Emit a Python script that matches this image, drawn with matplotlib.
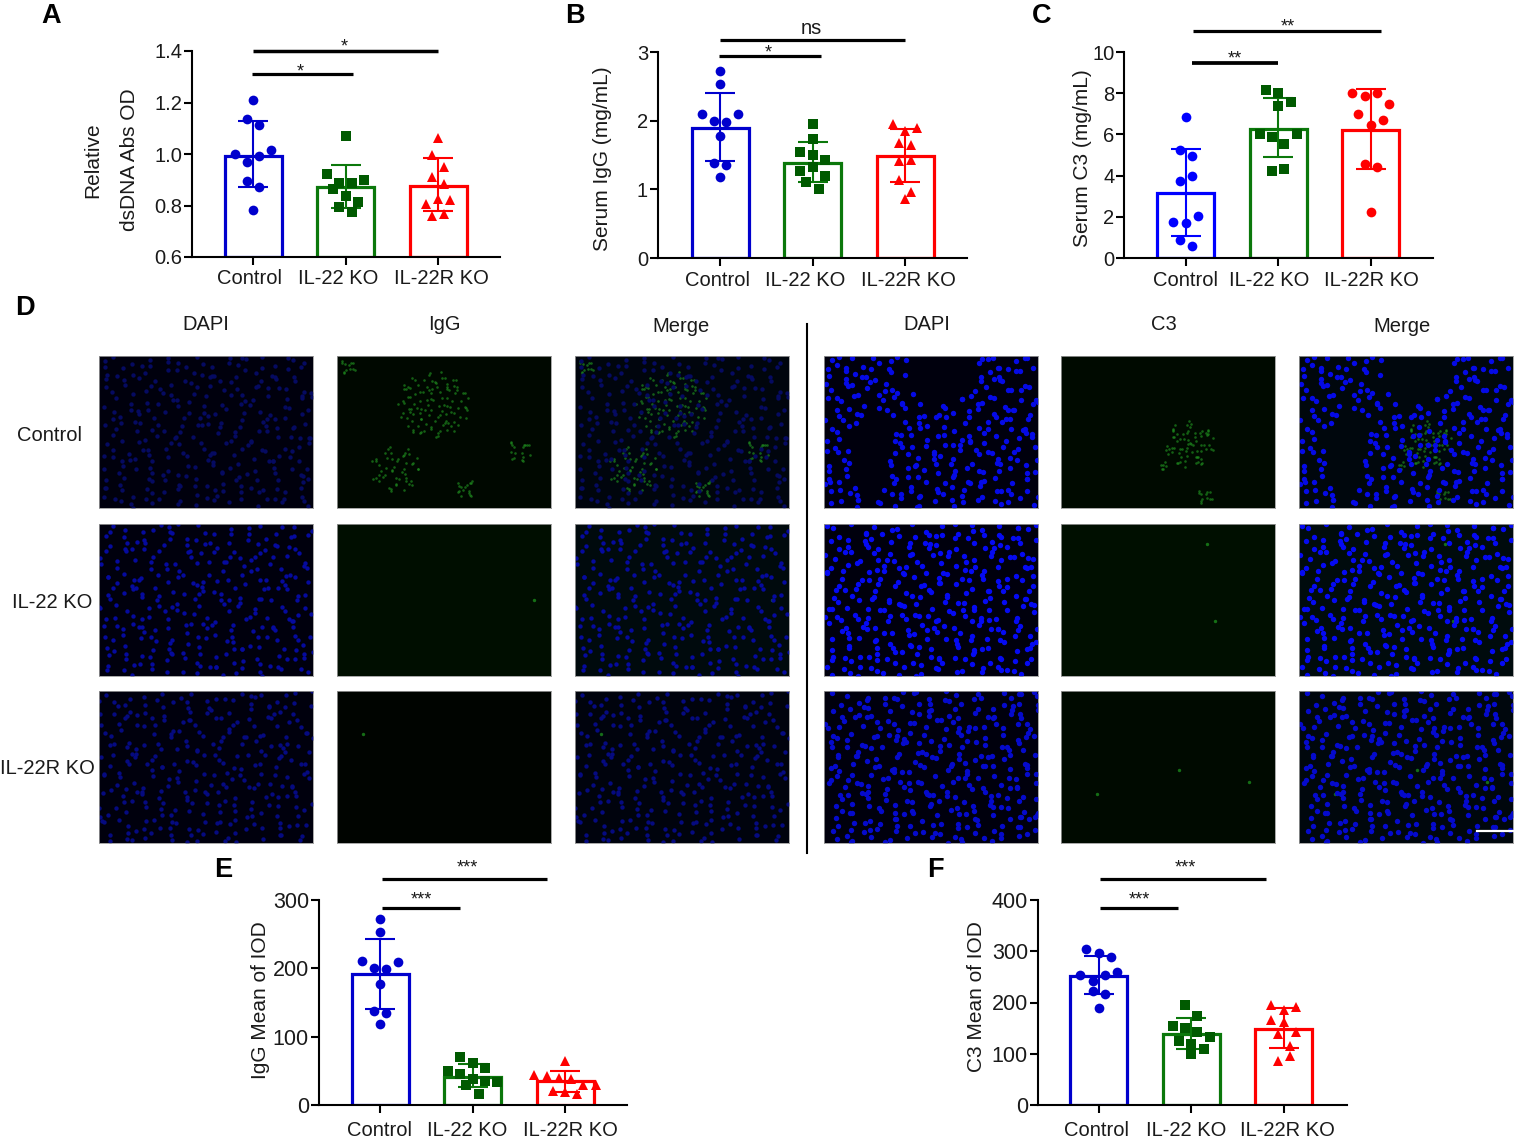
import numpy as np
import matplotlib
matplotlib.use("Agg")
import matplotlib.pyplot as plt
from matplotlib.lines import Line2D
from matplotlib.transforms import ScaledTranslation

plt.rcParams['font.family'] = ['Liberation Sans', 'DejaVu Sans']

W, H = 1515, 1138
groups = ['Control', 'IL-22 KO', 'IL-22R KO']

# values, one list per bar
a_ctrl = [1.208, 1.134, 1.111, 1.0, 0.967, 0.992, 1.014, 0.897, 0.872, 0.784]
a_ko = [1.069, 0.923, 0.888, 0.887, 0.898, 0.863, 0.837, 0.815, 0.793, 0.776]
a_rko = [1.063, 0.998, 0.95, 0.91, 0.883, 0.806, 0.826, 0.82, 0.758, 0.766]
a_mean = [0.994, 0.872, 0.877]
a_low = [0.871, 0.792, 0.779]
a_high = [1.128, 0.959, 0.983]

b_ctrl = [2.72, 2.53, 2.10, 2.00, 1.98, 2.09, 1.77, 1.38, 1.35, 1.18]
b_ko = [1.95, 1.73, 1.54, 1.50, 1.43, 1.26, 1.32, 1.19, 1.10, 1.0]
b_rko = [1.95, 1.85, 1.90, 1.67, 1.64, 1.41, 1.43, 1.14, 0.86, 0.96]
b_mean = [1.90, 1.39, 1.49]
b_low = [1.41, 1.11, 1.11]
b_high = [2.41, 1.69, 1.88]

c_ctrl = [6.84, 5.24, 4.95, 3.75, 3.98, 1.73, 1.68, 2.04, 0.87, 0.6]
c_ko = [8.16, 8.03, 7.39, 7.59, 6.04, 5.86, 5.53, 6.02, 4.22, 4.34]
c_rko = [7.99, 7.85, 7.99, 7.0, 7.48, 6.47, 6.72, 4.58, 4.42, 2.22]
c_mean = [3.16, 6.26, 6.21]
c_low = [1.08, 4.90, 4.34]
c_high = [5.28, 7.77, 8.22]

e_ctrl = [272, 253, 210, 201, 199, 209, 177, 138, 135, 119]
e_ko = [71, 61, 54, 50, 45, 39, 35.5, 33.5, 29, 16.5]
e_rko = [65, 44, 43, 40, 39, 30, 29, 21, 20, 16]
e_mean = [191, 42, 35]
e_low = [141, 26, 20]
e_high = [242, 60, 50]

f_ctrl = [305, 296, 288, 254, 242, 253, 259, 222, 216, 190]
f_ko = [196, 174, 154, 150, 143, 133, 126, 119, 110, 100]
f_rko = [196, 185, 191, 165, 163, 143, 139, 116, 87, 96]
f_mean = [251.5, 139, 148]
f_low = [216, 110, 111]
f_high = [290, 170, 189]

blue, blue2, green, dkgreen, red = '#0000CD', '#0000FF', '#0B780B', '#005A00', '#FF0000'

fig = plt.figure(figsize=(W / 100, H / 100), dpi=100)


def px_axes(x0, x1, ytop, ybot):
    return fig.add_axes([x0 / W, 1 - ybot / H, (x1 - x0) / W, (ybot - ytop) / H])


def hline(x0, x1, y, lw=2.3):
    fig.add_artist(Line2D([x0 / W, x1 / W], [1 - y / H] * 2, color='black', lw=lw, solid_capstyle='butt'))


def label(x, y, s, size=14.5, **kw):
    fig.text(x / W, 1 - y / H, s, ha='center', va='center', fontsize=size, color='#1a1a1a', **kw)


def swarm(values, row_h, step):
    # values falling in one row get spread symmetrically, in list order
    order = sorted(range(len(values)), key=lambda i: -values[i])
    rows, start = [], None
    for i in order:
        if start is None or start - values[i] > row_h:
            rows.append([])
            start = values[i]
        rows[-1].append(i)
    offs = np.zeros(len(values))
    for row in rows:
        row = sorted(row)
        for k, i in enumerate(row):
            offs[i] = (k - (len(row) - 1) / 2) * step
    return offs


def bar_panel(box, centers, yticks, ticklabels, ylabel, ylab_xy, series, mean, low, high,
              colors, markers, shifts, pad, ysize=14.5):
    x0, x1, ytop, ybot = box
    ax = px_axes(x0, x1, ytop, ybot)
    sp = (centers[2] - centers[0]) / 2
    ax.set_xlim((x0 - centers[0]) / sp, (x1 - centers[0]) / sp)
    ax.set_ylim(yticks[0], yticks[-1])
    xs = np.arange(3)
    row_h = 13 * (yticks[-1] - yticks[0]) / (ybot - ytop)
    for i in xs:
        ax.bar(i, mean[i] - yticks[0], bottom=yticks[0], width=57 / sp, facecolor='none',
               edgecolor=colors[i], linewidth=2.3, zorder=1)
        ax.errorbar(i, mean[i], yerr=[[mean[i] - low[i]], [high[i] - mean[i]]], color=colors[i],
                    capsize=11, capthick=1.5, elinewidth=1.5, zorder=2)
        offs = swarm(series[i], row_h, 12.3 / sp)
        mc = dkgreen if colors[i] == green else colors[i]
        ms = {'o': 7.0, 's': 6.5, '^': 7.4}[markers[i]]
        ax.plot(i + offs, series[i], ls='none', marker=markers[i], color=mc, mew=0,
                ms=ms, zorder=3, clip_on=False)
    for s in ['top', 'right']:
        ax.spines[s].set_visible(False)
    for s in ['left', 'bottom']:
        ax.spines[s].set_linewidth(1.5)
    ax.set_xticks(xs, groups, fontsize=14.5, color='#1a1a1a')
    ax.set_yticks(yticks, ticklabels, fontsize=ysize, color='#1a1a1a')
    ax.tick_params(axis='both', length=5.5, width=1.5)
    ax.tick_params(axis='x', pad=pad)
    ax.tick_params(axis='y', pad=1.5)
    for lab, dx in zip(ax.get_xticklabels(), shifts):
        lab.set_transform(lab.get_transform() + ScaledTranslation(dx / 100, 0, fig.dpi_scale_trans))
    ax.set_ylabel(ylabel, fontsize=15, color='#1a1a1a', va='center', ha='center', linespacing=2.15)
    ax.yaxis.set_label_coords(ylab_xy[0] / W, 1 - ylab_xy[1] / H, transform=fig.transFigure)
    return ax


m_std = ['o', 's', '^']
c_std = [blue, green, red]

bar_panel((192, 500, 51, 257), (253, 345.5, 438), [0.6, 0.8, 1.0, 1.2, 1.4],
          ['0.6', '0.8', '1.0', '1.2', '1.4'], 'Relative\ndsDNA Abs OD', (111, 160),
          [a_ctrl, a_ko, a_rko], a_mean, a_low, a_high, c_std, m_std, (-3, -7, 3), 3.5)
bar_panel((657.7, 967, 52, 258), (720, 812.5, 905), [0, 1, 2, 3], ['0', '1', '2', '3'],
          'Serum IgG (mg/mL)', (602, 159), [b_ctrl, b_ko, b_rko], b_mean, b_low, b_high,
          c_std, m_std, (-3, -7, 3), 3.5)
bar_panel((1124, 1433, 52, 258), (1185.7, 1278, 1370.7), [0, 2, 4, 6, 8, 10],
          ['0', '2', '4', '6', '8', '10'], 'Serum C3 (mg/mL)', (1082, 158),
          [c_ctrl, c_ko, c_rko], c_mean, c_low, c_high, [blue2, green, red], ['o', 's', 'o'],
          (0, -9, 1), 3.5)
bar_panel((318.7, 627, 899.7, 1105.3), (380, 472.3, 565), [0, 100, 200, 300],
          ['0', '100', '200', '300'], 'IgG Mean of IOD', (260, 1000),
          [e_ctrl, e_ko, e_rko], e_mean, e_low, e_high, c_std, m_std, (-1, -5, 5), 5.5, 15.5)
bar_panel((1037.7, 1346.7, 899.7, 1105.3), (1098.7, 1191.3, 1283.7), [0, 100, 200, 300, 400],
          ['0', '100', '200', '300', '400'], 'C3 Mean of IOD', (976, 997),
          [f_ctrl, f_ko, f_rko], f_mean, f_low, f_high, c_std, m_std, (-2, -5, 4), 5.5, 15.5)

# significance bars
hline(253, 438, 51, 2.5)
hline(252, 353, 74)
label(344, 47, '*', 13)
label(300, 72, '*', 13)
hline(720, 905, 40)
hline(719, 820.5, 55.5)
label(811, 29, 'ns')
label(768, 53, '*', 13)
hline(1193, 1381, 30.5)
hline(1192, 1278, 63, 2.7)
label(1288, 27, '**', 13)
label(1235, 59, '**', 13)
hline(382, 547, 879)
hline(382, 460, 908)
label(467, 868, '***', 13)
label(421, 900, '***', 13)
hline(1100, 1266, 879)
hline(1100, 1178, 908)
label(1185, 868, '***', 13)
label(1139, 900, '***', 13)

# panel letters
for s, x, y in [('A', 51, 16), ('B', 575, 16), ('C', 1042, 16), ('D', 25, 308), ('E', 223, 870), ('F', 935, 870)]:
    fig.text(x / W, 1 - y / H, s, ha='center', va='center', fontsize=19.5, fontweight='bold', color='black')

# panel D headers
for s, x, y in [('DAPI', 206, 325), ('IgG', 444, 325), ('Merge', 681, 327),
                ('DAPI', 927, 325), ('C3', 1164, 325), ('Merge', 1402, 327),
                ('Control', 50, 435), ('IL-22 KO', 52, 603), ('IL-22R KO', 47, 768)]:
    label(x, y, s)

fig.add_artist(Line2D([807.5 / W] * 2, [1 - 324 / H, 1 - 853 / H], color='black', lw=1.5))

# micrographs: dark fields with stand-in nuclei and stained spots, not data
col_x = [99, 337, 575, 824, 1061, 1299]
row_y = [356, 524, 691]
pw, ph = 214, 152
nuclei_blue = [[0.38, 0.90], [0.62, 0.95], [0.50, 0.80]]  # brightness, [left, right] per row
green_bg = [[0.03, 0.04], [0.055, 0.06], [0.015, 0.04]]
glom_left = [(0.45, 0.32, 0.17, 110), (0.27, 0.74, 0.12, 50), (0.60, 0.87, 0.05, 16),
             (0.85, 0.62, 0.06, 18), (0.05, 0.07, 0.04, 12)]
glom_right = [(0.60, 0.58, 0.12, 70), (0.67, 0.92, 0.04, 12), (0.48, 0.72, 0.02, 6)]
glints = {(1, 0): [(0.92, 0.50)], (1, 1): [(0.72, 0.64), (0.68, 0.13)], (2, 0): [(0.12, 0.28)],
          (2, 1): [(0.55, 0.52), (0.17, 0.68), (0.88, 0.6)]}
holes = [(0.55, 0.12, 0.16, 0.2), (0.22, 0.62, 0.09, 0.28)]


def r2(n, shift=0.0):
    g = 1.32471795724
    k = np.arange(1, n + 1)
    x = (shift + k / g) % 1
    y = (shift * 0.7 + k / g ** 2) % 1
    # bend the lattice a bit so it looks less regular
    x2 = (x + 0.035 * np.sin(23 * y) + 0.02 * np.sin(61 * y)) % 1
    y2 = (y + 0.05 * np.sin(19 * x) + 0.02 * np.sin(53 * x)) % 1
    return x2, y2


def green_spots(ax, side, r):
    if r == 0:
        for cx, cy, rad, n in (glom_left if side == 0 else glom_right):
            gx, gy = r2(n, 0.13 * n % 1)
            ang = 2 * np.pi * gx
            ax.scatter(cx + rad * np.sqrt(gy) * np.cos(ang), cy + rad * 1.3 * np.sqrt(gy) * np.sin(ang),
                       s=3.5, color='#1f8f1f', linewidths=0, alpha=0.65)
    for gx, gy in glints.get((r, side), []):
        ax.scatter([gx], [gy], s=6, color='#1f9a1f', linewidths=0, alpha=0.7)


for r, y in enumerate(row_y):
    for c, x in enumerate(col_x):
        side = c // 3
        kind = c % 3
        gb = green_bg[r][side]
        ax = px_axes(x, x + pw, y, y + ph)
        bg = {0: (0, 0, 0.05), 1: (0, gb, 0), 2: (0, gb * 0.7, 0.05)}[kind]
        ax.set_facecolor(bg)
        ax.set_xlim(0, 1)
        ax.set_ylim(1, 0)
        ax.set_xticks([])
        ax.set_yticks([])
        for s in ax.spines.values():
            s.set_linewidth(0.6)
            s.set_color('#999999')
        if kind != 0:
            green_spots(ax, side, r)
        if kind != 1:
            nx, ny = r2(300 if side == 0 else 340, 0.17 * (r + 1) + 0.3 * side)
            if side == 1 and r == 0:
                keep = np.ones(len(nx), bool)
                for hx, hy, rx, ry in holes:
                    keep &= ((nx - hx) / rx) ** 2 + ((ny - hy) / ry) ** 2 > 1
                nx, ny = nx[keep], ny[keep]
            b = nuclei_blue[r][side]
            ax.scatter(nx, ny, s=15 if side == 1 else 10, color=(0.02, 0.04, b), linewidths=0)

# scale bar on the last micrograph
fig.add_artist(Line2D([1477 / W, 1513 / W], [1 - 831 / H] * 2, color='white', lw=1.6))

fig.savefig('out.png', dpi=100)
